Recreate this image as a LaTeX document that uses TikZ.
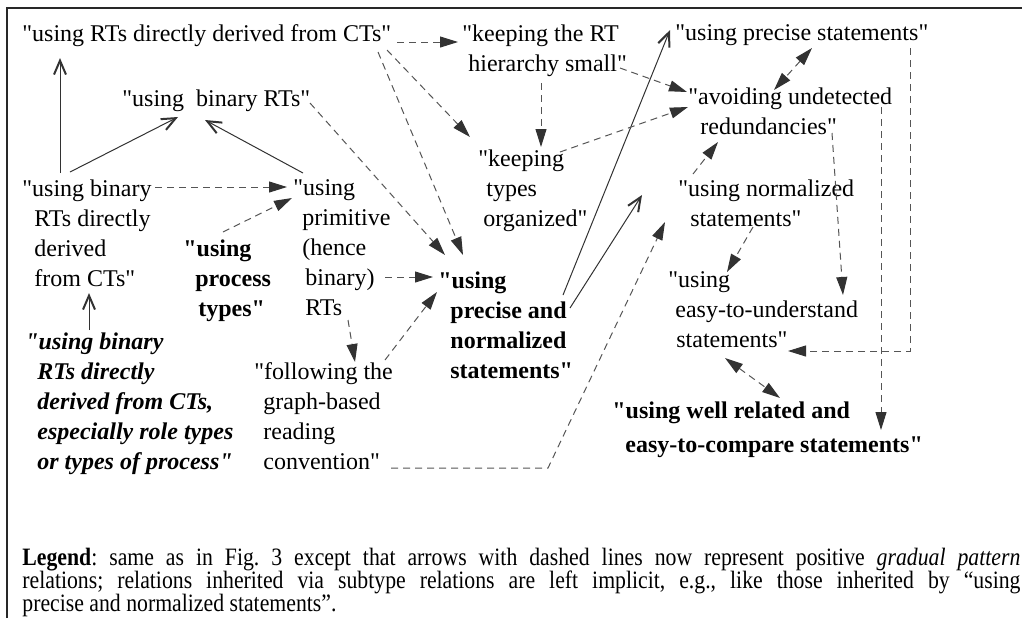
\documentclass[tikz,border=0pt]{standalone}
\usepackage{fontspec}
\setmainfont{Liberation Serif}[Ligatures=TeXOff]
\newfontfamily\legendfont[FakeStretch=0.87]{Liberation Serif}
\usepackage{tikz}
\usetikzlibrary{arrows.meta,calc}
\definecolor{lien}{RGB}{85,85,85}
\definecolor{pointe}{RGB}{50,50,50}
\definecolor{cadre}{RGB}{40,40,40}
\newcommand{\retrait}{\hspace*{6pt}}
\tikzset{
  stmt/.style={anchor=north west,inner sep=0pt,align=left,font=\fontsize{12}{15}\selectfont},
  stmtbf/.style={stmt,font=\fontsize{12}{15}\selectfont\bfseries},
  legende/.style={anchor=north west,inner sep=0pt,align=left,
    font=\legendfont\fontsize{12.5}{11.5}\selectfont\frenchspacing\setlength{\lineskiplimit}{-20pt}},
  gradual/.style={draw=lien,line width=0.5pt,dash pattern=on 3.5pt off 2.5pt,
    -{Triangle[length=9pt,width=5.5pt,color=pointe]}},
  gradualboth/.style={gradual,{Triangle[length=9pt,width=5.5pt,color=pointe]}-{Triangle[length=9pt,width=5.5pt,color=pointe]}},
  subtype/.style={draw=pointe,line width=0.5pt,-{Straight Barb[length=7pt,width=6pt,line width=1pt]}}
}

\begin{document}
\begin{tikzpicture}[x=0.5pt,y=-0.5pt]
    \useasboundingbox (0,0) rectangle (1022,618);
    % Cadre
    \draw[cadre,line width=1.2pt] (7,618) -- (7,8) -- (1022,8);

    % Enonces du haut
    \node[stmt] (ctsRT) at (22,24) {"using RTs directly derived from CTs"};
    \node[stmt] (keepRT) at (462,24) {"keeping the RT\\\hspace*{3pt}hierarchy small"};
    \node[stmt] (precSt) at (675,24) {"using precise statements"};
    \node[stmt] (binRT) at (122,89) {"using\ \ binary RTs"};
    \node[stmt] (avoid) at (688,87) {"avoiding undetected\\\retrait redundancies"};
    \node[stmt] (keepOrg) at (478,149) {"keeping\\\hspace*{4pt}types\\\hspace*{2.5pt}organized"};

    % Enonces du milieu
    \node[stmt] (binCT) at (22,179) {"using binary\\\retrait RTs directly\\\retrait derived\\\retrait from CTs"};
    \node[stmt] (prim) at (293,179) {"using\\\hspace*{4.5pt}primitive\\\hspace*{4.5pt}(hence\\\retrait binary)\\\retrait RTs};
    \node[stmt] (normSt) at (678,179) {"using normalized\\\retrait statements"};
    \node[stmtbf] (proc) at (183,239) {"using\\\retrait process\\\hspace*{7.5pt}types"};
    \node[stmtbf] (precNorm) at (438,271) {"using\\\retrait precise and\\\retrait normalized\\\retrait statements"};
    \node[stmt] (easy) at (668,271) {"using\\\hspace*{3.5pt}easy-to-understand\\\hspace*{4pt}statements"};

    % Enonces du bas
    \node[stmtbf,font=\fontsize{12}{15}\selectfont\bfseries\itshape] (roleBin) at (25,332)
      {"using binary\\\retrait RTs directly\\\retrait derived from CTs,\\\retrait especially role types\\\retrait or types of process"};
    \node[stmt] (graph) at (254,362) {"following the\\\hspace*{4.5pt}graph-based\\\hspace*{4.5pt}reading\\\hspace*{4.5pt}convention"};
    \node[stmtbf] (wellRel) at (612,401) {"using well related and\\[2pt]\hspace*{6.5pt}easy-to-compare statements"};

    % Legende
    \node[legende] (leg) at (22,548) {%
      \makebox[499pt][s]{\textbf{Legend}: same as in Fig. 3 except that arrows with dashed lines now represent positive \textit{gradual pattern}}\\
      \makebox[499pt][s]{relations; relations inherited via subtype relations are left implicit, e.g., like those inherited by “using}\\
      precise and normalized statements”.};

    % Liens de sous-type
    \draw[subtype] ([shift={(38,-6)}]binCT.north west) -- ([shift={(38,34)}]ctsRT.north west);
    \draw[subtype] ([shift={(48,-7)}]binCT.north west) -- ([shift={(56,28)}]binRT.north west);
    \draw[subtype] ([shift={(10,-6)}]prim.north west) -- ([shift={(83,31)}]binRT.north west);
    \draw[subtype] ([shift={(64,-2)}]roleBin.north west) -- ([shift={(67,114)}]binCT.north west);
    \draw[subtype] ([shift={(125,24)}]precNorm.north west) -- ([shift={(-5,6)}]precSt.north west);
    \draw[subtype] ([shift={(132,37)}]precNorm.north west) -- ([shift={(-36,16)}]normSt.north west);

    % Liens graduels
    \draw[gradual] ([shift={(375,18)}]ctsRT.north west) -- ([shift={(-4,18)}]keepRT.north west);
    \draw[gradual] ([shift={(365,26)}]ctsRT.north west) -- ([shift={(-8,-12)}]keepOrg.north west);
    \draw[gradual] ([shift={(356,28)}]ctsRT.north west) -- ([shift={(25,-16)}]precNorm.north west);
    \draw[gradual] ([shift={(188,14)}]binRT.north west) -- ([shift={(7,-16)}]precNorm.north west);
    \draw[gradual] ([shift={(133,8)}]binCT.north west) -- ([shift={(-6,8)}]prim.north west);
    \draw[gradual] ([shift={(40,-7)}]proc.north west) -- ([shift={(-1,19)}]prim.north west);
    \draw[gradual] ([shift={(92,98)}]prim.north west) -- ([shift={(-5,6)}]precNorm.north west);
    \draw[gradual] ([shift={(55,141)}]prim.north west) -- ([shift={(101,0)}]graph.north west);
    \draw[gradual] ([shift={(131,-2)}]graph.north west) -- ([shift={(-1,21)}]precNorm.north west);
    \draw[gradual] ([shift={(137,106)}]graph.north west) -- ++(157,0) -- ([shift={(-13,43)}]normSt.north west);
    \draw[gradual] ([shift={(79,59)}]keepRT.north west) -- ([shift={(63,-2)}]keepOrg.north west);
    \draw[gradual] ([shift={(158,44)}]keepRT.north west) -- ([shift={(-1,5)}]avoid.north west);
    \draw[gradual] ([shift={(82,3)}]keepOrg.north west) -- ([shift={(0,20)}]avoid.north west);
    \draw[gradualboth] ([shift={(137,24)}]precSt.north west) -- ([shift={(86,3)}]avoid.north west);
    \draw[gradual] ([shift={(15,-5)}]normSt.north west) -- ([shift={(30,55)}]avoid.north west);
    \draw[gradual] ([shift={(75,48)}]normSt.north west) -- ([shift={(59,1)}]easy.north west);
    \draw[gradual] ([shift={(144,46)}]avoid.north west) -- ([shift={(175,24)}]easy.north west);
    \draw[gradual] ([shift={(193,20)}]avoid.north west) -- ([shift={(269,29)}]wellRel.north west);
    \draw[gradual] ([shift={(235,24)}]precSt.north west) |- ([shift={(120,80)}]easy.north west);
    \draw[gradualboth] ([shift={(57,87)}]easy.north west) -- ([shift={(168,-3)}]wellRel.north west);

\end{tikzpicture}
\end{document}
